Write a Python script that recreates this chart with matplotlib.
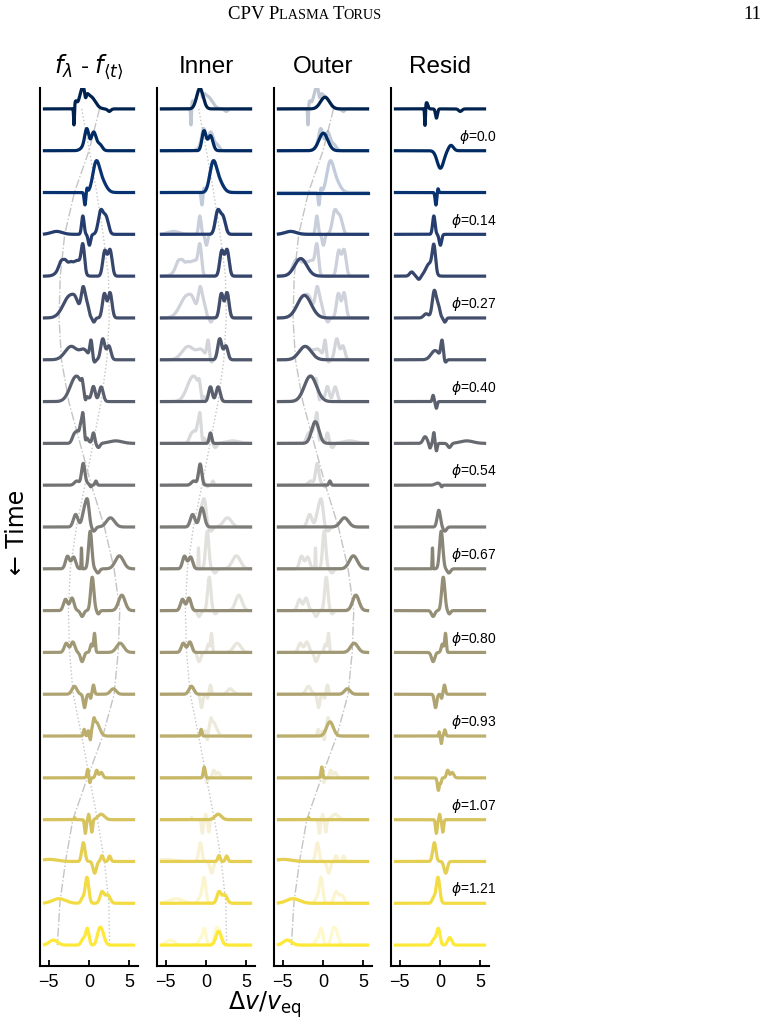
import numpy as np
import matplotlib
matplotlib.use("Agg")
import matplotlib.pyplot as plt

plt.rcParams['font.family'] = ['Liberation Sans', 'DejaVu Sans']
plt.rcParams['mathtext.fontset'] = 'dejavusans'

n_rows = 21

# gaussian pieces: (centre, height, width) in dv/veq and row units
inner_fit = [
    [(-0.75, 0.49, 0.4)],
    [(-0.25, 0.47, 0.25), (0.55, 0.36, 0.3)],
    [(0.85, 0.6, 0.4), (1.5, 0.3, 0.55)],
    [(1.45, 0.55, 0.3), (2.1, 0.4, 0.3)],
    [(1.95, 0.6, 0.25), (2.6, 0.62, 0.25)],
    [(1.9, 0.58, 0.24), (2.6, 0.6, 0.24)],
    [(1.7, 0.5, 0.25), (2.45, 0.33, 0.25)],
    [(0.55, 0.35, 0.22), (1.5, 0.35, 0.25)],
    [(0.55, 0.25, 0.15)],
    [(-0.72, 0.5, 0.2), (-1.5, 0.1, 0.3)],
    [(-1.65, 0.3, 0.28), (-0.5, 0.46, 0.3)],
    [(-2.65, 0.3, 0.25), (-1.9, 0.28, 0.25)],
    [(-2.9, 0.27, 0.25), (-2.1, 0.3, 0.25)],
    [(-2.8, 0.22, 0.25), (-2.0, 0.25, 0.25)],
    [(-1.8, 0.19, 0.3)],
    [(-0.6, 0.16, 0.1)],
    [(-0.22, 0.26, 0.12)],
    [(1.5, 0.13, 0.4)],
    [(1.6, 0.14, 0.15), (2.55, 0.13, 0.15)],
    [(1.6, 0.27, 0.25), (2.3, 0.2, 0.3)],
    [(1.55, 0.33, 0.33)],
]

outer_fit = [
    [(0.24, 0.28, 0.55)],
    [(0.04, 0.42, 0.55)],
    [],
    [(-4.0, 0.07, 0.7)],
    [(-2.75, 0.42, 0.75)],
    [(-2.3, 0.54, 0.85)],
    [(-2.2, 0.32, 0.75)],
    [(-1.55, 0.61, 0.75)],
    [(-0.95, 0.52, 0.45)],
    [(0.85, 0.1, 0.12)],
    [(2.65, 0.22, 0.5)],
    [(3.75, 0.31, 0.5)],
    [(4.05, 0.37, 0.4)],
    [(3.85, 0.22, 0.45)],
    [(3.0, 0.13, 0.35)],
    [(0.85, 0.34, 0.42)],
    [(-0.15, 0.26, 0.1)],
    [(-1.77, 0.05, 0.06)],
    [(-4.9, 0.05, 1.0)],
    [(-3.7, 0.11, 0.8)],
    [(-4.4, 0.12, 0.5)],
]

resid_parts = [
    [(-1.85, -0.46, 0.05), (-1.65, 0.15, 0.15), (-0.44, -0.22, 0.12), (2.5, -0.06, 0.2)],
    [(0.05, -0.42, 0.4), (1.35, 0.13, 0.3)],
    [(-0.5, -0.3, 0.1), (-0.25, 0.1, 0.08)],
    [(-0.76, 0.44, 0.15), (0.05, -0.26, 0.15)],
    [(-0.75, 0.62, 0.2), (-1.3, 0.3, 0.45), (-2.6, -0.08, 0.2), (-3.5, 0.1, 0.25)],
    [(-0.7, 0.65, 0.25), (-0.2, 0.25, 0.2), (-1.7, 0.1, 0.3), (0.6, -0.1, 0.15)],
    [(0.25, 0.42, 0.15), (-0.6, 0.22, 0.5), (0.65, -0.07, 0.15)],
    [(-0.85, 0.15, 0.1), (-0.45, -0.16, 0.1)],
    [(-1.84, 0.16, 0.25), (-1.24, -0.12, 0.12), (-0.76, 0.26, 0.1), (-0.44, -0.18, 0.1),
     (1.16, -0.1, 0.2), (3.3, 0.06, 0.8)],
    [(-0.3, 0.05, 0.3), (0.2, -0.05, 0.1)],
    [(-0.15, 0.4, 0.2), (0.6, -0.1, 0.2)],
    [(-0.93, 0.5, 0.04), (0.15, 0.9, 0.2), (1.1, -0.1, 0.2)],
    [(0.4, 0.8, 0.2), (-0.85, -0.14, 0.2), (1.15, -0.08, 0.15)],
    [(0.68, 0.45, 0.1), (0.3, 0.2, 0.15), (-0.85, -0.22, 0.2)],
    [(-0.55, -0.32, 0.15), (0.55, 0.22, 0.12), (0.2, -0.1, 0.08)],
    [(-0.1, 0.1, 0.06), (0.17, -0.18, 0.07), (0.6, 0.15, 0.1)],
    [(-0.2, -0.3, 0.12), (0.1, -0.12, 0.08), (0.95, 0.18, 0.15), (1.5, 0.13, 0.2)],
    [(-0.45, -0.33, 0.1), (-0.05, 0.13, 0.07), (0.35, -0.3, 0.1)],
    [(-0.7, 0.45, 0.2), (0.7, -0.28, 0.2)],
    [(-0.25, 0.62, 0.22), (-0.8, 0.12, 0.2)],
    [(-0.2, 0.38, 0.2), (-0.7, 0.15, 0.25), (1.2, 0.18, 0.25)],
]

# velocity tracks of the two components, one value per row
inner_track = [-0.9, 0.05, 0.95, 1.75, 2.4, 2.5, 2.2, 1.5, 0.5, -0.5, -1.55, -2.3,
               -2.55, -2.4, -1.95, -0.9, 0.05, 1.05, 1.9, 2.45, 2.55]
outer_track = [1.3, 0.0, -1.8, -3.0, -3.55, -3.7, -3.4, -2.5, -1.1, 0.3, 1.9, 3.1,
               3.8, 3.6, 3.1, 1.7, -0.2, -2.0, -2.9, -3.6, -3.9]

phase_rows = [1, 3, 5, 7, 9, 11, 13, 15, 17, 19]
phase_labels = ["0.0", "0.14", "0.27", "0.40", "0.54", "0.67", "0.80", "0.93", "1.07", "1.21"]

titles = [r"$f_\lambda$ - $f_{\langle t\rangle}$", "Inner", "Outer", "Resid"]

v = np.linspace(-5.5, 5.5, 600)


def profile(parts):
    y = np.zeros_like(v)
    for c, a, w in parts:
        y += a * np.exp(-0.5 * ((v - c) / w) ** 2)
    return y


W, H = 768, 1028
fig = plt.figure(figsize=(W / 100, H / 100), dpi=100)
lefts = [40, 157, 274, 391]
axes = [fig.add_axes([l / W, 62 / H, 98 / W, 878 / H]) for l in lefts]

cmap = plt.get_cmap("cividis")
rows = np.arange(n_rows)
track_col = "#c4c4c4"

for i in range(n_rows):
    col = cmap(i / (n_rows - 1))
    fin = profile(inner_fit[i])
    fout = profile(outer_fit[i])
    res = profile(resid_parts[i])
    data = fin + fout + res
    off = -i
    axes[0].plot(v, data + off, color=col, lw=2.3, zorder=3)
    axes[1].plot(v, data + off, color=col, lw=2.3, alpha=0.25, zorder=2)
    axes[1].plot(v, fin + off, color=col, lw=2.3, zorder=3)
    axes[2].plot(v, data + off, color=col, lw=2.3, alpha=0.25, zorder=2)
    axes[2].plot(v, fout + off, color=col, lw=2.3, zorder=3)
    axes[3].plot(v, res + off, color=col, lw=2.3, zorder=3)

axes[0].plot(inner_track, -rows, color=track_col, ls=":", lw=1.0, zorder=1)
axes[0].plot(outer_track, -rows, color=track_col, ls="-.", lw=1.0, zorder=1)
axes[1].plot(inner_track, -rows, color=track_col, ls=":", lw=1.0, zorder=1)
axes[2].plot(outer_track, -rows, color=track_col, ls="-.", lw=1.0, zorder=1)

for r, lab in zip(phase_rows, phase_labels):
    axes[3].text(7.0, -r + 0.33, r"$\phi$=" + lab, ha="right", va="center",
                 fontsize=10, clip_on=False)

for ax, t in zip(axes, titles):
    ax.set_xlim(-6.05, 6.05)
    ax.set_ylim(-20.5, 0.5)
    ax.set_xticks([-5, 0, 5])
    ax.set_yticks([])
    ax.tick_params(axis="x", direction="in", length=4, width=1.3, labelsize=13, pad=6)
    for s in ["top", "right"]:
        ax.spines[s].set_visible(False)
    for s in ["left", "bottom"]:
        ax.spines[s].set_linewidth(1.5)
    ax.set_title(t, fontsize=17.5, pad=11)

fig.text(265 / W, 1 - 1005 / H, r"$\Delta v/v_{\rm eq}$", ha="center", va="center", fontsize=17)
fig.text(17 / W, 1 - 532 / H, "\u2190 Time", ha="center", va="center", rotation=90,
         fontsize=17, family="DejaVu Sans")

# running head in small caps
renderer = fig.canvas.get_renderer()
pieces = [("CPV P", 13.5), ("LASMA ", 10.3), ("T", 13.5), ("ORUS", 10.3)]
x = 228
for txt, fs in pieces:
    t = fig.text(x / W, 1 - 19 / H, txt, fontsize=fs, family="Liberation Serif",
                 ha="left", va="baseline")
    bb = t.get_window_extent(renderer)
    x += bb.width
fig.text(761 / W, 1 - 19 / H, "11", fontsize=13.5, family="Liberation Serif",
         ha="right", va="baseline")

fig.savefig("out.png", dpi=100)
